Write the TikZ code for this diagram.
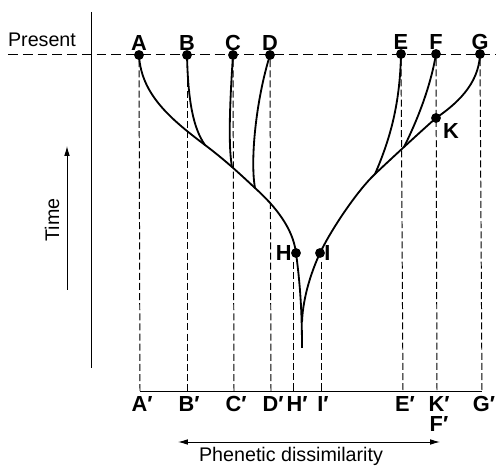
\documentclass[tikz,border=0pt]{standalone}
\usepackage{fontspec}
\setmainfont{Liberation Sans}
\usetikzlibrary{arrows.meta}

\tikzset{
  branch/.style={line width=1.3pt},
  guide/.style={line width=0.7pt, dash pattern=on 5pt off 2.2pt},
  tip/.style={circle, fill=black, inner sep=0pt, minimum size=7pt},
  lab/.style={font=\fontsize{15.5}{17}\selectfont\bfseries, inner sep=1pt},
}

\begin{document}
\begin{tikzpicture}[x=0.025cm, y=-0.025cm, font=\fontsize{14}{16}\selectfont]
  \useasboundingbox (0,0) rectangle (496,466);
  % present line and time axis
  \draw[line width=0.7pt, dash pattern=on 7pt off 3.5pt] (8,54) -- (496,54);
  \draw[line width=0.7pt] (91,12) -- (91,368);
  \node (present) at (42,40) {Present};
  \draw[line width=0.7pt, -{Latex[length=7pt,width=4pt]}] (67,290) -- (67,146);
  \node[rotate=90] (time) at (52,220) {Time};
  % living species
  \node[tip] (A) at (139,55) {};
  \node[tip] (B) at (187,55) {};
  \node[tip] (C) at (233,55) {};
  \node[tip] (D) at (270,55) {};
  \node[tip] (E) at (401,54) {};
  \node[tip] (F) at (436,54) {};
  \node[tip] (G) at (480,54) {};
  \foreach \n in {A,B,C,D,E,F,G}
    \node[lab, above=2pt] at (\n) {\n};
  % ancestors
  \node[tip] (K) at (436,118) {};
  \node[lab] at (451,131) {K};
  \node[tip] (H) at (296,253) {};
  \node[lab, left=2pt] at (H) {H};
  \node[tip] (I) at (320,253) {};
  \node[lab, right=2pt] at (I) {I};
  % junctions
  \coordinate (jB) at (205,145);
  \coordinate (jC) at (232,167);
  \coordinate (jD) at (255,188);
  \coordinate (jF) at (404,147);
  \coordinate (jE) at (375,174);
  \coordinate (root) at (302,348);
  \coordinate (jI) at (302,322);
  % left clade
  \draw[branch] (A.center) .. controls (141,95) and (172,120) .. (jB)
    .. controls (225,160) and (240,174) .. (jD)
    .. controls (275,206) and (293,228) .. (H.center)
    .. controls (300,283) and (302,310) .. (root);
  \draw[branch] (B.center) .. controls (188,100) and (193,128) .. (jB);
  \draw[branch] (C.center) .. controls (230,100) and (228,145) .. (jC);
  \draw[branch] (D.center) .. controls (256,100) and (250,160) .. (jD);
  % right clade
  \draw[branch] (G.center) .. controls (479,85) and (455,105) .. (K.center)
    .. controls (419,133) and (392,158) .. (jE)
    .. controls (358,190) and (332,228) .. (I.center)
    .. controls (313,268) and (303,295) .. (jI);
  \draw[branch] (E.center) .. controls (400,100) and (392,135) .. (jE);
  \draw[branch] (F.center) .. controls (430,90) and (415,125) .. (jF);
  % phenetic axis
  \coordinate (a') at (140,391);
  \coordinate (g') at (482,391);
  \draw[line width=0.7pt] (a') -- (g');
  \foreach \n/\x in {A/140,B/187,C/234,D/271,E/403,F/437,G/482}
    \draw[guide] (\n) -- (\x,391);
  \draw[guide] (293,262) -- (293,391);
  \draw[guide] (321,262) -- (321,391);
  \foreach \n/\x in {A/142,B/189,C/236,D/273,H/297,I/323,E/405,K/439,G/484}
    \node[lab] (\n') at (\x,404) {\n′};
  \node[lab] (F') at (439,424) {F′};
  \draw[line width=0.7pt, {Latex[length=7pt,width=4pt]}-{Latex[length=7pt,width=4pt]}] (178,442) -- (440,442);
  \node (dissim) at (291,456) {Phenetic dissimilarity};
\end{tikzpicture}
\end{document}
